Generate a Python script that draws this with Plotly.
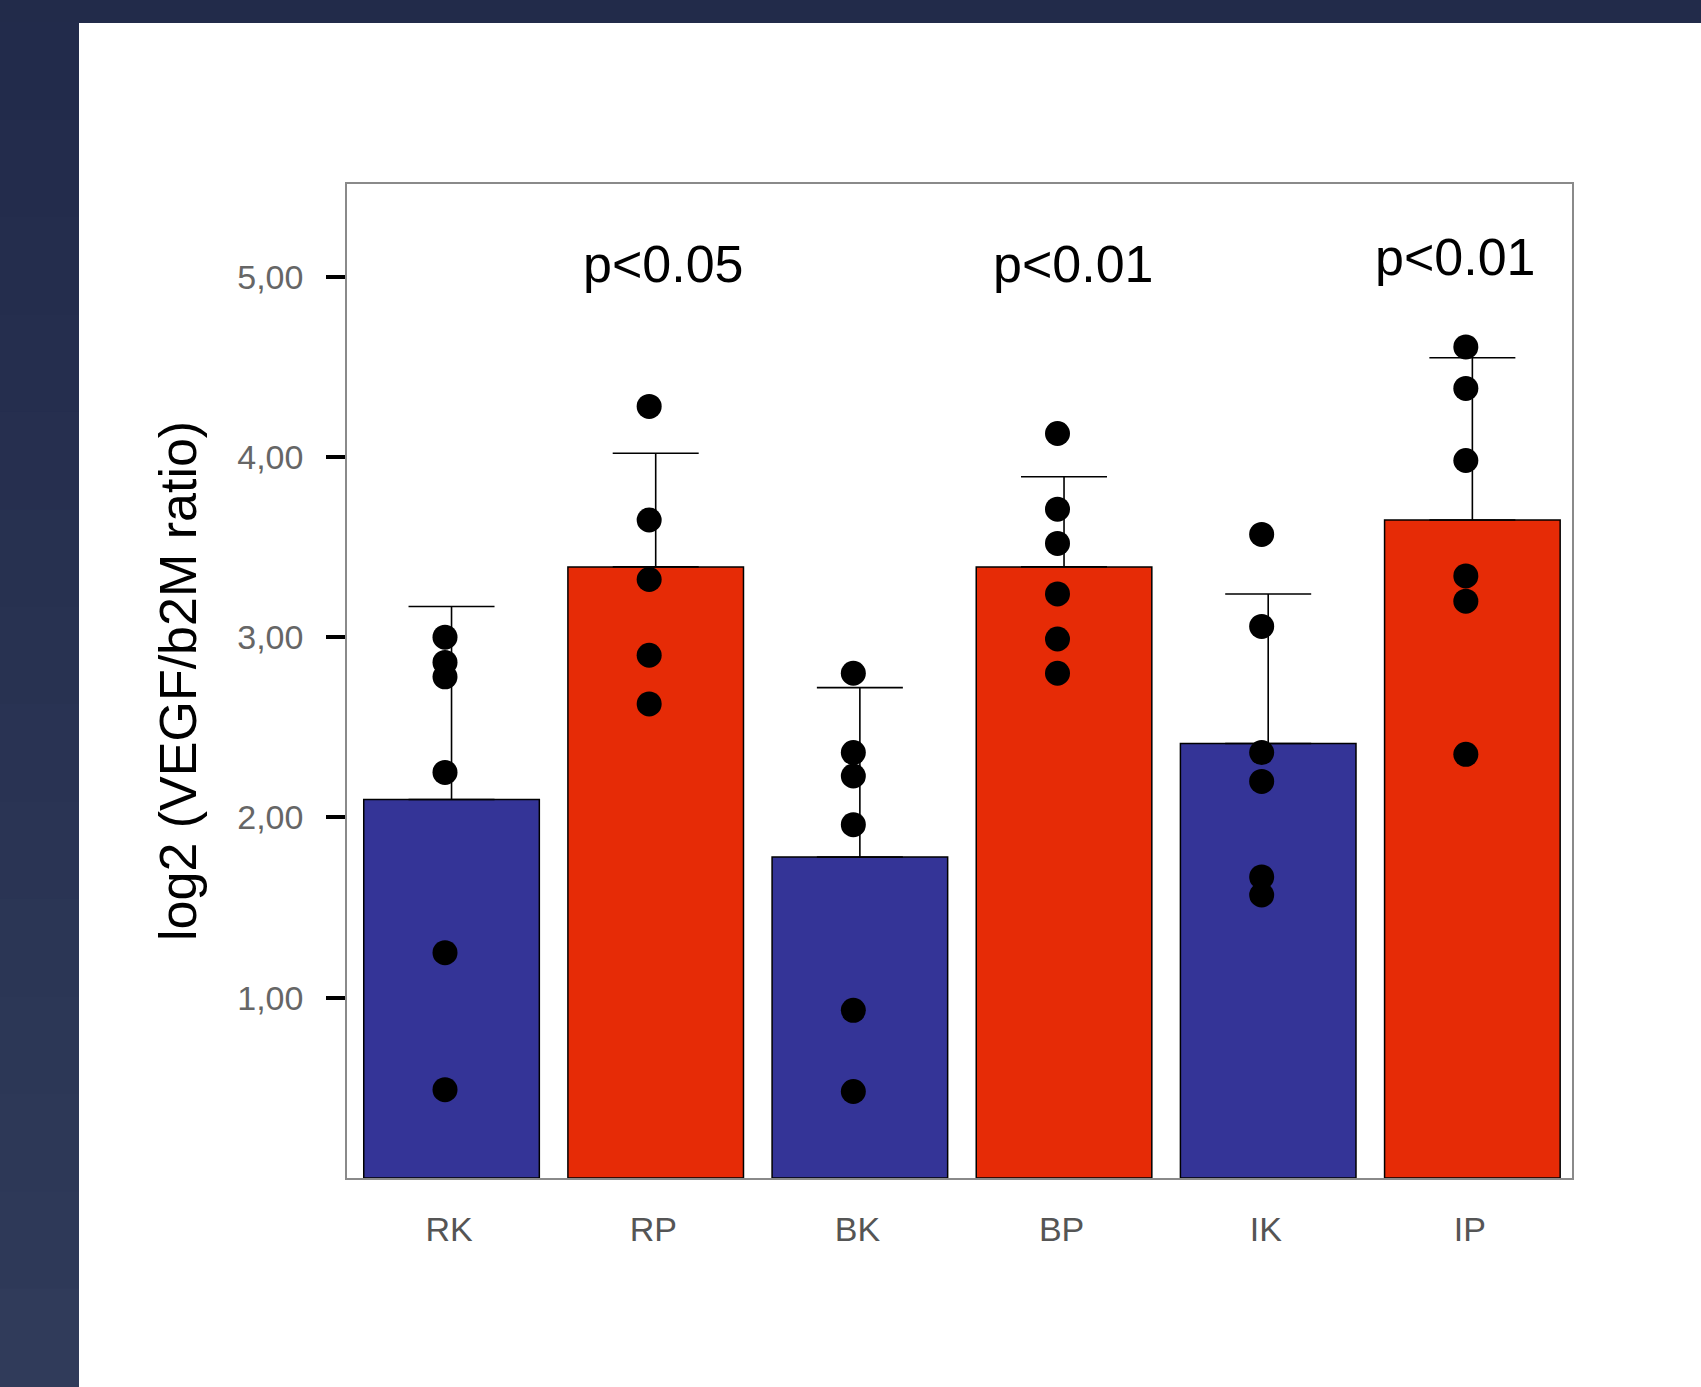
import plotly.graph_objects as go

# ---- data ----
categories = ["RK", "RP", "BK", "BP", "IK", "IP"]
means = [2.10, 3.39, 1.78, 3.39, 2.41, 3.65]
err_upper = [3.17, 4.02, 2.72, 3.89, 3.24, 4.55]
bar_colors = ["#343497", "#E62B06", "#343497", "#E62B06", "#343497", "#E62B06"]

rk_pts = [3.00, 2.86, 2.78, 2.25, 1.25, 0.49]
rp_pts = [4.28, 3.65, 3.32, 2.90, 2.63]
bk_pts = [2.80, 2.36, 2.23, 1.96, 0.93, 0.48]
bp_pts = [4.13, 3.71, 3.52, 3.24, 2.99, 2.80]
ik_pts = [3.57, 3.06, 2.36, 2.20, 1.67, 1.57]
ip_pts = [4.61, 4.38, 3.98, 3.34, 3.20, 2.35]
points = [rk_pts, rp_pts, bk_pts, bp_pts, ik_pts, ip_pts]

y_ticks = [1, 2, 3, 4, 5]
y_ticktext = ["1,00", "2,00", "3,00", "4,00", "5,00"]

p_labels = ["p<0.05", "p<0.01", "p<0.01"]
p_cats = [1, 3, 5]
p_y = [5.07, 5.07, 5.11]
p_xshift = [10, 12, -14]

W, H = 1701, 1387
L, R, T, B = 347, 129, 184, 209
pw, ph = W - L - R, H - T - B

fig = go.Figure()

xs = list(range(len(categories)))
fig.add_trace(go.Bar(
    x=[x + 0.012 for x in xs], y=means, width=0.86,
    marker=dict(color=bar_colors, line=dict(color="black", width=1.5)),
    error_y=dict(type="data", symmetric=False,
                 array=[u - m for u, m in zip(err_upper, means)],
                 arrayminus=[0] * len(means),
                 color="black", thickness=1.6, width=43),
    showlegend=False, hoverinfo="skip",
))

dot_x, dot_y = [], []
for i, pts in enumerate(points):
    for v in pts:
        dot_x.append(i - 0.02)
        dot_y.append(v)
fig.add_trace(go.Scatter(
    x=dot_x, y=dot_y, mode="markers",
    marker=dict(color="black", size=25, line=dict(width=0)),
    showlegend=False, hoverinfo="skip",
))

for txt, c, yv, xs_ in zip(p_labels, p_cats, p_y, p_xshift):
    fig.add_annotation(x=c, y=yv, xref="x", yref="y", text=txt, showarrow=False,
                       xshift=xs_, xanchor="center", yanchor="middle",
                       font=dict(family="Liberation Sans", size=52, color="black"))

# y-axis title
fig.add_annotation(x=(178 - L) / pw, y=0.5, xref="paper", yref="paper",
                   xanchor="center", yanchor="middle",
                   text="log2 (VEGF/b2M ratio)", textangle=-90, showarrow=False,
                   font=dict(family="Liberation Sans", size=52, color="black"))

shapes = []
# white panel
shapes.append(dict(type="rect", xref="paper", yref="paper",
                   x0=(79 - L) / pw, x1=(W + 20 - L) / pw,
                   y0=-(B + 20) / ph, y1=(H - 23 - B) / ph,
                   fillcolor="white", line=dict(width=0), layer="below"))
# left strip gradient bands
n = 14
top_c = (0x22, 0x2B, 0x4B)
bot_c = (0x30, 0x3B, 0x5A)
for k in range(n):
    f = k / (n - 1)
    col = "rgb(%d,%d,%d)" % tuple(int(a + (b - a) * f) for a, b in zip(top_c, bot_c))
    y_top = 23 + (H - 23) * k / n
    y_bot = 23 + (H - 23) * (k + 1) / n
    shapes.append(dict(type="rect", xref="paper", yref="paper",
                       x0=(-L - 5) / pw, x1=(79 - L) / pw,
                       y0=(H - y_bot - B) / ph, y1=(H - y_top - B) / ph + 0.001,
                       fillcolor=col, line=dict(width=0), layer="below"))

fig.update_layout(
    width=W, height=H,
    margin=dict(l=L, r=R, t=T, b=B),
    paper_bgcolor="#222B4A",
    plot_bgcolor="white",
    shapes=shapes,
    xaxis=dict(range=[-0.5, 5.5], tickvals=xs, ticktext=categories,
               showgrid=False, zeroline=False, showline=True, mirror=True,
               linecolor="#8a8a8a", linewidth=1.5, ticks="",
               tickfont=dict(family="Liberation Sans", size=34, color="#555555"),
               ticklabelstandoff=20),
    yaxis=dict(range=[0, 5.514], tickvals=y_ticks, ticktext=y_ticktext,
               showgrid=False, zeroline=False, showline=True, mirror=True,
               linecolor="#8a8a8a", linewidth=1.5,
               ticks="outside", ticklen=19, tickwidth=4, tickcolor="black",
               tickfont=dict(family="Liberation Sans", size=34, color="#666666"),
               ticklabelstandoff=16),
)

fig.write_html("out.html")
